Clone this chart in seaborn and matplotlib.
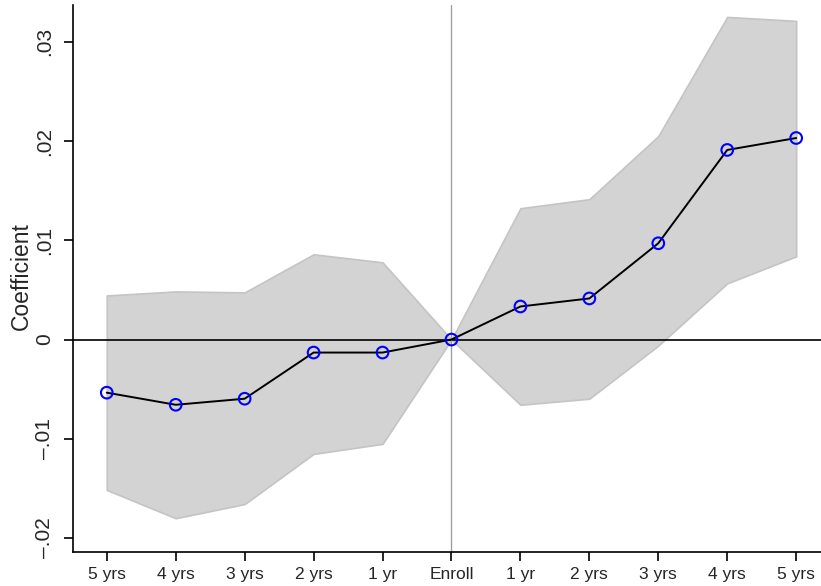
import matplotlib
matplotlib.use("Agg")
import matplotlib.pyplot as plt
import seaborn as sns
import pandas as pd

# Event-study estimates around enrollment
periods = ["5 yrs", "4 yrs", "3 yrs", "2 yrs", "1 yr", "Enroll",
           "1 yr", "2 yrs", "3 yrs", "4 yrs", "5 yrs"]
coef = [-0.00535, -0.00657, -0.00596, -0.00131, -0.00131, 0.0,
        0.00333, 0.00414, 0.0097, 0.0191, 0.0203]
ci_upper = [0.00444, 0.00485, 0.00475, 0.00859, 0.00778, 0.0,
            0.01323, 0.01414, 0.0205, 0.0325, 0.0321]
ci_lower = [-0.01515, -0.0180, -0.01657, -0.01152, -0.01051, 0.0,
            -0.00657, -0.00596, -0.00061, 0.00566, 0.00838]
yticks = [-0.02, -0.01, 0.0, 0.01, 0.02, 0.03]
ytick_labels = ["\u2013.02", "\u2013.01", "0", ".01", ".02", ".03"]

df = pd.DataFrame({"t": range(len(periods)), "coef": coef,
                   "lo": ci_lower, "hi": ci_upper})

sns.set_style("white")
plt.rcParams["font.family"] = ["Liberation Sans", "DejaVu Sans"]

fig = plt.figure(figsize=(8.21, 5.86), dpi=100)
ax = fig.add_axes([73 / 821, 34 / 586, 748 / 821, 547 / 586])

ax.fill_between(df["t"], df["lo"], df["hi"], color="#d3d3d3",
                edgecolor="#c4c4c4", linewidth=1.2, zorder=1)
ax.axhline(0, color="black", linewidth=1.2, zorder=2)
ax.axvline(5, color="#a0a0a0", linewidth=1.0, zorder=2)
sns.lineplot(data=df, x="t", y="coef", color="black", linewidth=1.4,
             ax=ax, zorder=3)
ax.scatter(df["t"], df["coef"], s=70, facecolors="none",
           edgecolors="blue", linewidths=1.5, zorder=4)

ax.set_xlim(-0.49, 10.36)
ax.set_ylim(-0.0214, 0.0337)
ax.set_xticks(range(len(periods)))
ax.set_xticklabels(periods, fontsize=12.5)
ax.set_yticks(yticks)
ax.set_yticklabels(ytick_labels, fontsize=15, rotation=90, va="center")
ax.set_xlabel("")
ax.set_ylabel("Coefficient", fontsize=16.5)
ax.yaxis.set_label_coords(-0.054, 0.505)

for side in ["top", "right"]:
    ax.spines[side].set_visible(False)
for side in ["left", "bottom"]:
    ax.spines[side].set_color("black")
    ax.spines[side].set_linewidth(1.2)
ax.tick_params(axis="both", direction="out", length=6.5, width=1.2,
               color="black", bottom=True, left=True)
ax.tick_params(axis="y", pad=7)
ax.tick_params(axis="x", pad=4)

fig.savefig("out.png", dpi=100)
